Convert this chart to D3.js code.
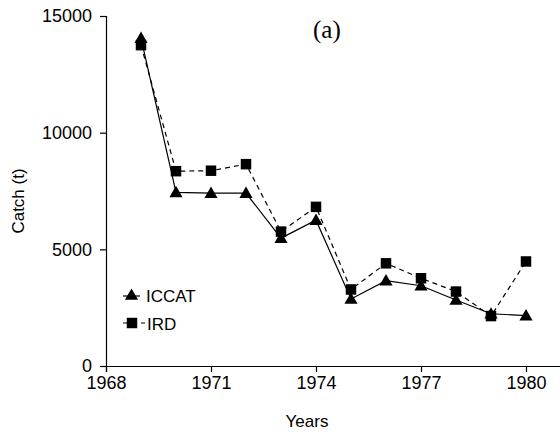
<!DOCTYPE html>
<html>
<head>
<meta charset="utf-8">
<script src="https://cdn.jsdelivr.net/npm/d3@7"></script>
<style>
  body { margin: 0; background: #fff; }
  text { font-family: "Liberation Sans", Arial, sans-serif; fill: #000; }
  .axis path, .axis line { stroke: #000; stroke-width: 1.2; }
  .axis text { font-size: 18px; }
</style>
</head>
<body>
<div id="chart"><svg></svg></div>
<script>
const years = [1969, 1970, 1971, 1972, 1973, 1974, 1975, 1976, 1977, 1978, 1979, 1980];
const iccat = [14050, 7440, 7410, 7410, 5480, 6250, 2870, 3660, 3440, 2830, 2240, 2160];
const ird = [13750, 8350, 8370, 8650, 5760, 6820, 3280, 4400, 3760, 3190, 2140, 4480];
const xTicks = [1968, 1971, 1974, 1977, 1980];
const yTicks = [0, 5000, 10000, 15000];

const chartSize = {width: 560, height: 437};

const svg = d3.select("#chart svg")
  .attr("width", chartSize.width)
  .attr("height", chartSize.height);

const x = d3.scaleLinear().domain([1968, 1981]).range([106, 561]);
const y = d3.scaleLinear().domain([0, 15000]).range([366, 16]);

svg.append("g")
  .attr("class", "axis")
  .attr("transform", "translate(0,366)")
  .call(d3.axisBottom(x).tickValues(xTicks).tickFormat(d3.format("d")).tickSizeOuter(0).tickSize(6).tickPadding(4));

svg.append("g")
  .attr("class", "axis")
  .attr("transform", "translate(106,0)")
  .call(d3.axisLeft(y).tickValues(yTicks).tickFormat(d3.format("d")).tickSizeOuter(0).tickSize(6).tickPadding(8));

svg.append("text")
  .attr("x", 307)
  .attr("y", 427)
  .attr("text-anchor", "middle")
  .style("font-size", "17px")
  .text("Years");

svg.append("text")
  .attr("transform", "translate(24,201) rotate(-90)")
  .attr("text-anchor", "middle")
  .style("font-size", "17px")
  .text("Catch (t)");

svg.append("text")
  .attr("x", 313)
  .attr("y", 38)
  .style("font-family", "'Liberation Serif', 'Times New Roman', serif")
  .style("font-size", "25px")
  .text("(a)");

const line = vals => d3.line()
  .x((d, i) => x(years[i]))
  .y(d => y(d))(vals);

svg.append("path")
  .attr("d", line(ird))
  .attr("fill", "none")
  .attr("stroke", "#000")
  .attr("stroke-width", 1.2)
  .attr("stroke-dasharray", "5,4");

svg.append("path")
  .attr("d", line(iccat))
  .attr("fill", "none")
  .attr("stroke", "#000")
  .attr("stroke-width", 1.2);

const tri = d3.symbol().type(d3.symbolTriangle).size(75);
const sq = d3.symbol().type(d3.symbolSquare).size(110);

svg.append("g").selectAll("path")
  .data(ird)
  .enter()
  .append("path")
  .attr("d", sq)
  .attr("transform", (d, i) => `translate(${x(years[i])},${y(d)})`);

svg.append("g").selectAll("path")
  .data(iccat)
  .enter()
  .append("path")
  .attr("d", tri)
  .attr("transform", (d, i) => `translate(${x(years[i])},${y(d) + 1})`);

// legend
const legend = svg.append("g");
legend.append("line")
  .attr("x1", 123).attr("x2", 140).attr("y1", 296).attr("y2", 296)
  .attr("stroke", "#000").attr("stroke-width", 1.2);
legend.append("path")
  .attr("d", tri)
  .attr("transform", "translate(131.5,296)");
legend.append("text")
  .attr("x", 146).attr("y", 302)
  .style("font-size", "17px")
  .text("ICCAT");

legend.append("line")
  .attr("x1", 123).attr("x2", 145).attr("y1", 323).attr("y2", 323)
  .attr("stroke", "#000").attr("stroke-width", 1.2)
  .attr("stroke-dasharray", "5,4");
legend.append("path")
  .attr("d", sq)
  .attr("transform", "translate(132,323)");
legend.append("text")
  .attr("x", 147).attr("y", 330)
  .style("font-size", "17px")
  .text("IRD");
</script>
</body>
</html>
